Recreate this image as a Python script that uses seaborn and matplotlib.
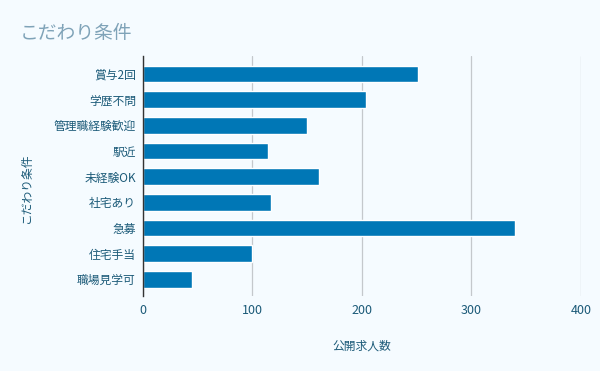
import pandas as pd
import matplotlib
matplotlib.use("Agg")
import matplotlib.pyplot as plt
import seaborn as sns

categories = ["賞与2回", "学歴不問", "管理職経験歓迎", "駅近", "未経験OK",
              "社宅あり", "急募", "住宅手当", "職場見学可"]
counts = [251, 204, 150, 114, 161, 117, 340, 100, 45]
x_ticks = [0, 100, 200, 300, 400]

BG = "#F5FBFF"
BAR = "#0077B6"
TXT = "#1B5A78"

sns.set_theme(style="white")
plt.rcParams["font.family"] = ["Noto Sans CJK JP", "DejaVu Sans"]

df = pd.DataFrame({"cond": categories, "n": counts})

fig = plt.figure(figsize=(6, 3.71), dpi=100, facecolor=BG)
ax = fig.add_axes([0.238, 0.202, 0.73, 0.647])
ax.set_facecolor(BG)

sns.barplot(data=df, y="cond", x="n", color=BAR, width=0.66,
            saturation=1, ax=ax, zorder=3)

ax.set_xlim(0, 400)
ax.set_ylim(8.65, -0.7)
ax.set_xticks(x_ticks)
ax.set_xticklabels([str(t) for t in x_ticks], color=TXT, fontsize=9)
ax.tick_params(axis="y", labelsize=8.5, labelcolor=TXT, length=0, pad=5)
ax.tick_params(axis="x", length=0, pad=6)
ax.grid(axis="x", color="#C4C8CC", linewidth=0.9, zorder=0)
ax.set_axisbelow(True)

for s in ["top", "right", "bottom"]:
    ax.spines[s].set_visible(False)
ax.spines["left"].set_color("#333333")
ax.spines["left"].set_linewidth(1.0)
ax.spines["left"].set_zorder(5)

ax.set_xlabel("公開求人数", color=TXT, fontsize=8.5, labelpad=16)
ax.set_ylabel("こだわり条件", color=TXT, fontsize=8.5)
ax.yaxis.set_label_coords(-0.25, 0.45)

fig.text(0.033, 0.91, "こだわり条件", color="#7FA3B8", fontsize=13.5,
         ha="left", va="center")

fig.savefig("out.png", dpi=100, facecolor=BG)
